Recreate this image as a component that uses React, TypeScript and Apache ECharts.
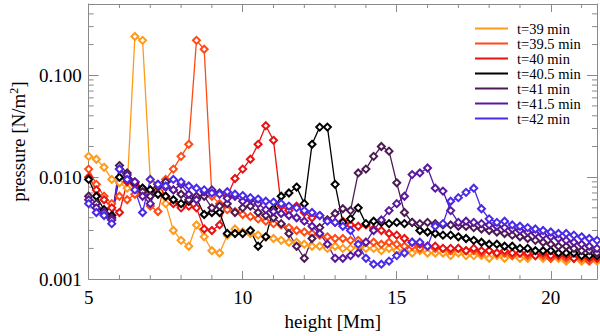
import { useEffect, useRef } from 'react';
import * as echarts from 'echarts';

const heights = [
  5.0, 5.25, 5.5, 5.75, 6.0, 6.25, 6.5, 6.75, 7.0, 7.25, 7.5, 7.75, 8.0, 8.25, 8.5, 8.75,
  9.0, 9.25, 9.5, 9.75, 10.0, 10.25, 10.5, 10.75, 11.0, 11.25, 11.5, 11.75, 12.0, 12.25, 12.5, 12.75,
  13.0, 13.25, 13.5, 13.75, 14.0, 14.25, 14.5, 14.75, 15.0, 15.25, 15.5, 15.75, 16.0, 16.25, 16.5, 16.75,
  17.0, 17.25, 17.5, 17.75, 18.0, 18.25, 18.5, 18.75, 19.0, 19.25, 19.5, 19.75, 20.0, 20.25, 20.5, 20.75,
  21.0, 21.25, 21.5,
];

const seriesNames = ['t=39 min', 't=39.5 min', 't=40 min', 't=40.5 min', 't=41 min', 't=41.5 min', 't=42 min'];
const seriesColors = ['#ff9a1a', '#ff4a14', '#e81212', '#000000', '#4d1a55', '#5a18a0', '#4a2ae8'];

const p39 = [
  0.016, 0.015, 0.0125, 0.0095, 0.0088, 0.0078, 0.24, 0.22, 0.0095, 0.0078, 0.0055, 0.003, 0.0024, 0.0021, 0.0034, 0.0026,
  0.0019, 0.0018, 0.0027, 0.0031, 0.0029, 0.0028, 0.0027, 0.0026, 0.0025, 0.0024, 0.0023, 0.0023, 0.0022, 0.0021, 0.0021, 0.002,
  0.0021, 0.002, 0.002, 0.0021, 0.002, 0.002, 0.0019, 0.002, 0.0019, 0.0019, 0.0018, 0.0019, 0.0018, 0.0018, 0.0018, 0.0017,
  0.0018, 0.0017, 0.0017, 0.0017, 0.0016, 0.0017, 0.0016, 0.0017, 0.0016, 0.0016, 0.0017, 0.0016, 0.0016, 0.0016, 0.0015, 0.0016,
  0.0015, 0.0016, 0.0015,
];
const p395 = [
  0.012, 0.0085, 0.0065, 0.0055, 0.0065, 0.006, 0.0068, 0.007, 0.0052, 0.0046, 0.0095, 0.012, 0.016, 0.021, 0.22, 0.18,
  0.0065, 0.0055, 0.0048, 0.0046, 0.0043, 0.0041, 0.0039, 0.0037, 0.0035, 0.0034, 0.0032, 0.003, 0.0029, 0.0028, 0.0027, 0.0026,
  0.0025, 0.0025, 0.0024, 0.0024, 0.0023, 0.0023, 0.0022, 0.0023, 0.0022, 0.0021, 0.0021, 0.002, 0.0021, 0.002, 0.002, 0.0019,
  0.002, 0.0019, 0.0019, 0.0018, 0.0019, 0.0018, 0.0018, 0.0017, 0.0018, 0.0017, 0.0017, 0.0017, 0.0016, 0.0017, 0.0016, 0.0016,
  0.0016, 0.0015, 0.0016,
];
const p40 = [
  0.01, 0.0075, 0.006, 0.005, 0.0045, 0.009, 0.0085, 0.0078, 0.0075, 0.0085, 0.0065, 0.0055, 0.005, 0.0052, 0.005, 0.0031,
  0.003, 0.0034, 0.0065, 0.0097, 0.012, 0.015, 0.021, 0.032, 0.023, 0.0052, 0.0047, 0.0052, 0.0045, 0.004, 0.0042, 0.0038,
  0.0036, 0.0037, 0.0034, 0.0033, 0.0034, 0.0031, 0.003, 0.0028, 0.0027, 0.0025, 0.0023, 0.0022, 0.0021, 0.0021, 0.002, 0.002,
  0.002, 0.0019, 0.002, 0.0019, 0.0019, 0.0018, 0.0019, 0.0018, 0.0018, 0.0018, 0.0017, 0.0018, 0.0017, 0.0017, 0.0017, 0.0016,
  0.0017, 0.0016, 0.0016,
];
const p405 = [
  0.0095, 0.0065, 0.0048, 0.0042, 0.01, 0.0095, 0.0088, 0.0078, 0.0075, 0.0068, 0.0065, 0.006, 0.0055, 0.0058, 0.0062, 0.0043,
  0.0045, 0.0045, 0.0028, 0.0028, 0.0028, 0.003, 0.0021, 0.0026, 0.0049, 0.0065, 0.007, 0.008, 0.0055, 0.021, 0.031, 0.031,
  0.0085, 0.0036, 0.0039, 0.005, 0.0035, 0.0037, 0.0036, 0.0035, 0.0036, 0.0035, 0.0036, 0.003, 0.0029, 0.0028, 0.0027, 0.0027,
  0.0026, 0.0025, 0.0024, 0.0023, 0.0022, 0.0022, 0.0021, 0.0021, 0.002, 0.002, 0.0019, 0.0019, 0.0019, 0.0018, 0.0018, 0.0018,
  0.0017, 0.0017, 0.0017,
];
const p41 = [
  0.0065, 0.0055, 0.0045, 0.004, 0.013, 0.011, 0.009, 0.0072, 0.0065, 0.008, 0.009, 0.0075, 0.0068, 0.006, 0.0065, 0.0065,
  0.005, 0.0052, 0.0055, 0.0045, 0.005, 0.0052, 0.0045, 0.0042, 0.004, 0.0035, 0.0028, 0.0021, 0.0016, 0.0025, 0.0032, 0.0038,
  0.0044, 0.0049, 0.0047, 0.011, 0.012, 0.016, 0.02, 0.018, 0.0088, 0.0045, 0.0036, 0.0035, 0.0036, 0.0035, 0.0034, 0.0034,
  0.0033, 0.0033, 0.0032, 0.0031, 0.003, 0.0029, 0.0028, 0.0027, 0.0026, 0.0025, 0.0024, 0.0023, 0.0022, 0.0021, 0.0021, 0.002,
  0.0019, 0.0019, 0.0018,
];
const p415 = [
  0.006, 0.005, 0.0045, 0.0038, 0.012, 0.0105, 0.009, 0.0065, 0.0055, 0.0085, 0.008, 0.0075, 0.0085, 0.0068, 0.006, 0.0072,
  0.0075, 0.007, 0.0062, 0.0065, 0.0058, 0.006, 0.0055, 0.0048, 0.0046, 0.0044, 0.0042, 0.004, 0.0037, 0.0033, 0.0028, 0.0022,
  0.0016, 0.0016, 0.0017, 0.0018, 0.0023, 0.003, 0.0038, 0.0047, 0.0055, 0.0065, 0.0106, 0.011, 0.0123, 0.0078, 0.0073, 0.0047,
  0.0036, 0.0037, 0.0036, 0.0035, 0.0034, 0.0033, 0.0032, 0.0031, 0.003, 0.0029, 0.0028, 0.0027, 0.0026, 0.0025, 0.0024, 0.0023,
  0.0022, 0.0021, 0.002,
];
const p42 = [
  0.0055, 0.0045, 0.0042, 0.0035, 0.012, 0.0095, 0.0075, 0.0045, 0.0095, 0.0085, 0.0082, 0.0095, 0.009, 0.0082, 0.0078, 0.0075,
  0.007, 0.0068, 0.0072, 0.0068, 0.0066, 0.0063, 0.0061, 0.0058, 0.0057, 0.0055, 0.0052, 0.005, 0.0047, 0.0045, 0.0042, 0.0037,
  0.0036, 0.0033, 0.003, 0.0022, 0.0016, 0.0014, 0.0014, 0.0015, 0.0017, 0.0018, 0.0023, 0.0023, 0.0021, 0.0033, 0.0035, 0.0058,
  0.0063, 0.0071, 0.0078, 0.0049, 0.0039, 0.0036, 0.0037, 0.0034, 0.0033, 0.0032, 0.0031, 0.003, 0.0029, 0.0028, 0.0028, 0.0027,
  0.0026, 0.0025, 0.0024,
];

const xMinorTicks = [6, 7, 8, 9, 11, 12, 13, 14, 16, 17, 18, 19, 21];
const yMinorTicks = [
  0.002, 0.003, 0.004, 0.005, 0.006, 0.007, 0.008, 0.009,
  0.02, 0.03, 0.04, 0.05, 0.06, 0.07, 0.08, 0.09,
  0.2, 0.3, 0.4,
];

const SERIF = '"Liberation Serif", "DejaVu Serif", "Times New Roman", serif';
const AXIS_COLOR = '#8a8a8a';

export default function App() {
  const ref = useRef<HTMLDivElement>(null);

  useEffect(() => {
    if (!ref.current) return;
    const chart = echarts.init(ref.current, null, { renderer: 'svg' });
    const allData = [p39, p395, p40, p405, p41, p415, p42];
    const isPow10 = (v: number) => Math.abs(Math.log10(v) - Math.round(Math.log10(v))) < 1e-6;

    const commonX = {
      type: 'value',
      min: 5,
      max: 21.5,
      interval: 5,
      axisLine: { show: true, lineStyle: { color: AXIS_COLOR, width: 1 } },
      axisTick: { show: true, inside: true, length: 8, lineStyle: { color: AXIS_COLOR } },
      splitLine: { show: false },
    };
    const commonY = {
      type: 'log',
      logBase: 10,
      min: 0.001,
      max: 0.5,
      axisLine: { show: true, lineStyle: { color: AXIS_COLOR, width: 1 } },
      axisTick: { show: true, inside: true, length: 10, lineStyle: { color: AXIS_COLOR } },
      splitLine: { show: false },
    };

    chart.setOption({
      animation: false,
      backgroundColor: '#ffffff',
      grid: { left: 84, right: 3, top: 4, bottom: 52, containLabel: false },
      legend: {
        orient: 'vertical',
        left: 470,
        top: 16,
        itemWidth: 33,
        itemHeight: 2,
        itemGap: 0,
        icon: 'rect',
        data: seriesNames,
        textStyle: { fontFamily: SERIF, fontSize: 14.5, color: '#000', lineHeight: 14.6, padding: [0, 0, 0, 4] },
      },
      xAxis: [
        {
          ...commonX,
          position: 'bottom',
          axisLabel: {
            show: true,
            margin: 9,
            color: '#000',
            fontFamily: SERIF,
            fontSize: 19,
            formatter: (v: number) => (Math.abs(v % 5) < 1e-9 ? String(v) : ''),
          },
          name: 'height [Mm]',
          nameLocation: 'middle',
          nameGap: 27,
          nameTextStyle: { fontFamily: SERIF, fontSize: 19, color: '#000', padding: [0, 20, 0, 0] },
        },
        { ...commonX, position: 'top', axisLabel: { show: false } },
      ],
      yAxis: [
        {
          ...commonY,
          position: 'left',
          axisLabel: {
            show: true,
            margin: 7,
            color: '#000',
            fontFamily: SERIF,
            fontSize: 19,
            showMaxLabel: false,
            formatter: (v: number) => (isPow10(v) ? v.toFixed(3) : ''),
          },
          name: '{a|pressure [N/m}{s|2}{a|]}',
          nameLocation: 'middle',
          nameGap: 58,
          nameTextStyle: {
            rich: {
              a: { fontFamily: SERIF, fontSize: 19, color: '#000' },
              s: { fontFamily: SERIF, fontSize: 12, color: '#000', padding: [0, 0, 9, 0] },
            },
          },
        },
        { ...commonY, position: 'right', axisLabel: { show: false } },
      ],
      series: seriesNames.map((name, k) => ({
        type: 'line',
        name,
        xAxisIndex: 0,
        yAxisIndex: 0,
        data: heights.map((h, i) => [h, allData[k][i]]),
        symbol: 'emptyDiamond',
        symbolSize: 7,
        showSymbol: true,
        lineStyle: { width: 1.3, color: seriesColors[k] },
        itemStyle: { color: seriesColors[k], borderWidth: 1.3 },
        emphasis: { disabled: true },
        silent: true,
      })),
    });

    const xl = chart.convertToPixel({ xAxisIndex: 0 }, 5) as number;
    const xr = chart.convertToPixel({ xAxisIndex: 0 }, 21.5) as number;
    const yb = chart.convertToPixel({ yAxisIndex: 0 }, 0.001) as number;
    const yt = chart.convertToPixel({ yAxisIndex: 0 }, 0.5) as number;
    const tickStyle = { stroke: AXIS_COLOR, lineWidth: 1 };
    const elems: any[] = [];
    xMinorTicks.forEach((v) => {
      const px = chart.convertToPixel({ xAxisIndex: 0 }, v) as number;
      elems.push({ type: 'line', silent: true, shape: { x1: px, y1: yb, x2: px, y2: yb - 4 }, style: tickStyle });
      elems.push({ type: 'line', silent: true, shape: { x1: px, y1: yt, x2: px, y2: yt + 4 }, style: tickStyle });
    });
    yMinorTicks.forEach((v) => {
      const py = chart.convertToPixel({ yAxisIndex: 0 }, v) as number;
      elems.push({ type: 'line', silent: true, shape: { x1: xl, y1: py, x2: xl + 5, y2: py }, style: tickStyle });
      elems.push({ type: 'line', silent: true, shape: { x1: xr, y1: py, x2: xr - 5, y2: py }, style: tickStyle });
    });
    chart.setOption({ graphic: elems });

    return () => chart.dispose();
  }, []);

  return (
    <div
      ref={ref}
      style={{ position: 'fixed', left: 0, top: 0, width: 600, height: 336, background: '#fff' }}
    />
  );
}
